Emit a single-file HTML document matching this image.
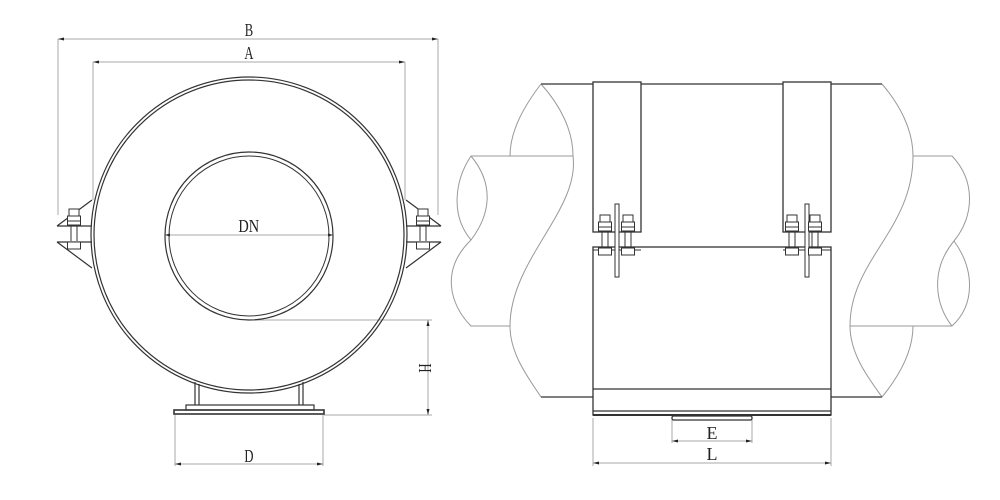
<!DOCTYPE html>
<html><head><meta charset="utf-8"><style>html,body{margin:0;padding:0;background:#fff}svg{display:block}</style></head>
<body>
<svg width="1000" height="500" viewBox="0 0 1000 500" xmlns="http://www.w3.org/2000/svg" font-family="Liberation Serif, serif">
<defs>
<g id="bolt">
 <rect x="-5" y="-17" width="10" height="7" fill="#fff" stroke="#333"/>
 <rect x="-6.5" y="-10" width="13" height="9" fill="#fff" stroke="#333"/>
 <line x1="-6.5" y1="-5" x2="6.5" y2="-5" stroke="#333"/>
 <line x1="-3" y1="0" x2="-3" y2="15" stroke="#333"/>
 <line x1="3" y1="0" x2="3" y2="15" stroke="#333"/>
 <rect x="-6.5" y="16" width="13" height="7" fill="#fff" stroke="#333"/>
</g>
</defs>
<g fill="none" stroke="#aaa" stroke-width="1">
 <line x1="58" y1="39" x2="438" y2="39"/>
 <line x1="58" y1="39" x2="58" y2="215"/>
 <line x1="438" y1="39" x2="438" y2="215"/>
 <line x1="93" y1="62" x2="405" y2="62"/>
 <line x1="93" y1="62" x2="93" y2="200"/>
 <line x1="405" y1="62" x2="405" y2="200"/>
 <line x1="165" y1="235" x2="333" y2="235"/>
 <line x1="249" y1="320" x2="432" y2="320"/>
 <line x1="324" y1="415" x2="432" y2="415"/>
 <line x1="428" y1="320" x2="428" y2="415"/>
 <line x1="175" y1="415" x2="175" y2="466"/>
 <line x1="323" y1="415" x2="323" y2="466"/>
 <line x1="175" y1="464" x2="323" y2="464"/>
 <line x1="593" y1="418" x2="593" y2="466"/>
 <line x1="831" y1="418" x2="831" y2="466"/>
 <line x1="593" y1="463" x2="831" y2="463"/>
 <line x1="672" y1="420" x2="672" y2="443"/>
 <line x1="752" y1="420" x2="752" y2="443"/>
 <line x1="672" y1="441" x2="752" y2="441"/>
</g>
<g fill="#222">
 <path d="M58 39 l6 -1.5 v3z M438 39 l-6 -1.5 v3z M93 62 l6 -1.5 v3z M405 62 l-6 -1.5 v3z M165 235 l5 -1.5 v3z M333 235 l-5 -1.5 v3z M428 415 l-1.5 -6 h3z M428 320 l-1.5 6 h3z M175 464 l6 -1.5 v3z M323 464 l-6 -1.5 v3z M593 463 l6 -1.5 v3z M831 463 l-6 -1.5 v3z M672 441 l6 -1.5 v3z M752 441 l-6 -1.5 v3z"/>
</g>
<g fill="#222" font-size="18">
 <text x="249" y="36" text-anchor="middle" transform="scale(0.7 1) translate(106.7 0)">B</text>
 <text x="249" y="59" text-anchor="middle" transform="scale(0.7 1) translate(106.7 0)">A</text>
 <text x="249" y="232" text-anchor="middle" transform="scale(0.8 1) translate(62 0)">DN</text>
 <text x="249" y="462" text-anchor="middle" transform="scale(0.7 1) translate(106.7 0)">D</text>
 <text x="712" y="439" text-anchor="middle">E</text>
 <text x="712" y="460" text-anchor="middle">L</text>
 <text x="0" y="0" text-anchor="middle" transform="translate(419 368) rotate(90) scale(0.7 1)">H</text>
</g>
<g fill="none" stroke="#333" stroke-width="1.2">
 <circle cx="249" cy="235" r="158"/>
 <circle cx="249" cy="235" r="155"/>
 <circle cx="249" cy="236" r="84"/>
 <circle cx="249" cy="236" r="80" stroke-width="1"/>
 <path d="M57 226 H92 M57 242 H92 M57 226 L92 200 M57 242 L92 268"/>
 <path d="M406 226 H441 M406 242 H441 M441 226 L406 200 M441 242 L406 268"/>
 <path d="M195 382 V405 M199 384 V405 M299 384 V405 M303 382 V405"/>
 <rect x="186" y="405" width="128" height="5"/>
 <rect x="174" y="410" width="150" height="4" stroke-width="1.6"/>
</g>
<use href="#bolt" x="74" y="226"/>
<use href="#bolt" x="423" y="226"/>
<g fill="none" stroke="#999" stroke-width="1">
 <path d="M541 84 C525 105 510 130 510 156 M541 84 C560 105 573 130 573 156"/>
 <path d="M471 156 H573 M471 156 C455 180 450 215 471 240 M471 156 C495 185 490 215 471 240 M471 240 C440 270 450 305 471 326 H510"/>
 <path d="M573 156 C580 210 510 260 510 326 C510 355 530 380 541 397"/>
 <path d="M882 84 C900 105 913 130 913 156 C913 230 850 260 850 326 C850 355 870 380 882 397 M882 397 C900 375 913 350 913 326"/>
 <path d="M913 156 H952 C975 180 975 215 954 241 C930 270 935 305 952 326 M954 241 C975 270 975 305 952 326 M850 326 H952"/>
</g>
<g fill="none" stroke="#555" stroke-width="1.4">
 <path d="M541 84 H593 M641 84 H783 M831 84 H882 M541 397 H593 M831 397 H882"/>
</g>
<g fill="none" stroke="#333" stroke-width="1.3">
 <rect x="593" y="82" width="48" height="150" fill="#fff"/>
 <rect x="783" y="82" width="48" height="150" fill="#fff"/>
 <rect x="593" y="247" width="238" height="168" fill="#fff"/>
 <path d="M593 250 H641 M783 250 H831" stroke-width="1"/>
 <line x1="593" y1="389" x2="831" y2="389"/>
 <line x1="593" y1="411" x2="831" y2="411"/>
 <line x1="593" y1="415" x2="831" y2="415" stroke-width="2"/>
 <rect x="672" y="416" width="80" height="4" rx="1.5"/>
 <rect x="615" y="204" width="4" height="73" fill="#fff" stroke-width="1"/>
 <rect x="805" y="204" width="4" height="73" fill="#fff" stroke-width="1"/>
</g>
<use href="#bolt" x="605" y="232"/>
<use href="#bolt" x="628" y="232"/>
<use href="#bolt" x="792" y="232"/>
<use href="#bolt" x="815" y="232"/>
</svg>
</body></html>
